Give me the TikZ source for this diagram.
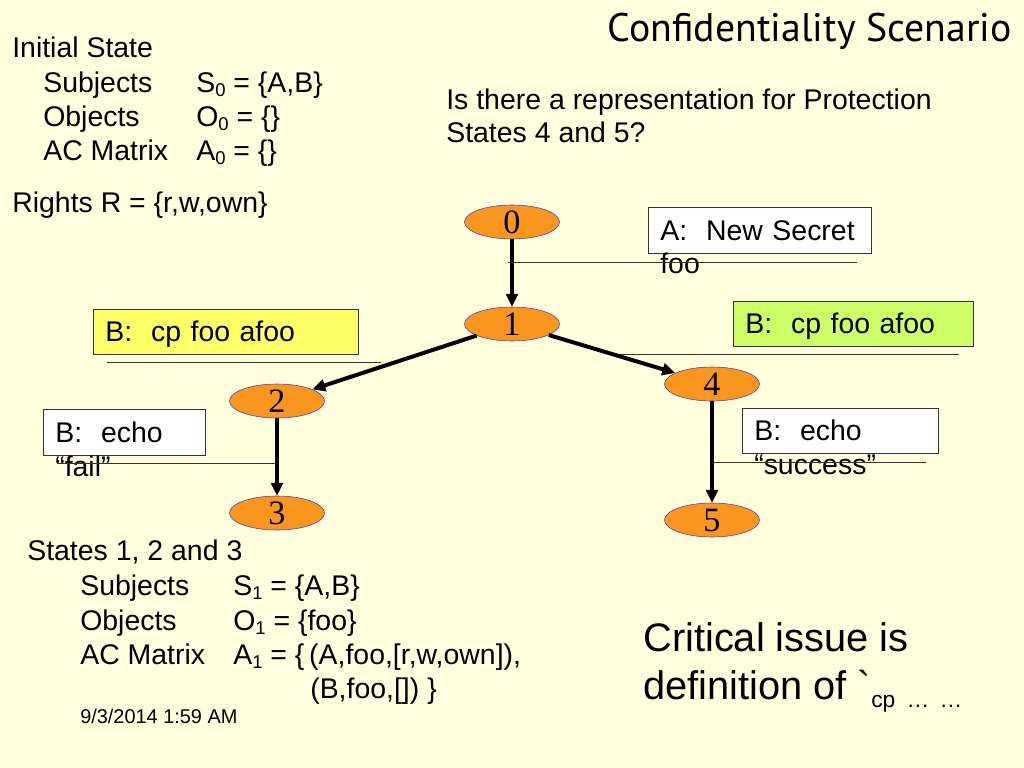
\documentclass[tikz,border=0pt]{standalone}
\usepackage{fontspec}
\setmainfont{Liberation Sans}
\newfontfamily\titlefont{PT Sans}
\newfontfamily\numfont{Liberation Serif}
\usetikzlibrary{shapes.geometric,arrows.meta}
\definecolor{slidebg}{RGB}{255,255,222}
\definecolor{stateorange}{RGB}{250,150,30}
\definecolor{stateedge}{RGB}{90,60,180}
\definecolor{boxyellow}{RGB}{255,255,102}
\definecolor{boxgreen}{RGB}{204,255,102}
\newlength\px
\setlength\px{0.703125pt}
\newcommand{\bodysize}{\fontsize{20}{24}\selectfont}
\newcommand{\sub}[1]{\raisebox{-4\px}{\fontsize{13}{13}\selectfont#1}}
\begin{document}
\begin{tikzpicture}[x=1\px,y=-1\px,
  state/.style={ellipse,draw=stateedge,thin,fill=stateorange,minimum width=95\px,minimum height=34\px,inner sep=0pt,font=\numfont\fontsize{24}{24}\selectfont},
  move/.style={line width=2.8pt,-{Triangle[length=9.1pt,width=8.4pt]}},
  txt/.style={anchor=base west,inner sep=0pt,font=\bodysize},
  cmdbox/.style={draw=black!80,anchor=north west,inner xsep=12\px,inner ysep=0pt,font=\bodysize,align=left,text height=14.3pt,text depth=0pt},
  lead/.style={line width=0.7pt,black!80}]
\fill[slidebg] (0,0) rectangle (1024,768);
\useasboundingbox (0,0) rectangle (1024,768);

\node[anchor=base east,inner sep=0pt,font=\titlefont\fontsize{28}{32}\selectfont] (title) at (1012,42) {Confidentiality Scenario};
\node[txt] (question) at (446,110) {Is there a representation for Protection};
\node[txt] (question2) at (446,143) {States 4 and 5?};

% initial state
\node[txt] (init) at (12,58) {Initial State};
\foreach \y/\name/\set in {93/Subjects/{S\sub{0} = \{A,B\}},127/Objects/{O\sub{0} = \{\}},161/AC Matrix/{A\sub{0} = \{\}}}{
    \node[txt] at (43,\y) {\name};
    \node[txt] at (196,\y) {\set};
}
\node[txt] (rights) at (12,213) {Rights R = \{r,w,own\}};

% states
\node[state] (s0) at (512,222) {0};
\node[state] (s1) at (512,324) {1};
\node[state] (s2) at (277,401) {2};
\node[state] (s3) at (277,513) {3};
\node[state] (s4) at (712,384) {4};
\node[state] (s5) at (712,520) {5};
\draw[move] (s0) -- (s1);
\draw[move] (s1) -- (s2);
\draw[move] (s1) -- (s4);
\draw[move] (s2) -- (s3);
\draw[move] (s4) -- (s5);

% commands
\node[cmdbox,fill=white,text width=199\px,minimum height=46\px] (newsecret) at (648,207) {A:\ \ New Secret};
\node[txt] (newsecret2) at (660,274) {foo};
\node[cmdbox,fill=boxyellow,text width=241\px,minimum height=45\px] (cpleft) at (93,309) {B:\ \ cp foo afoo};
\node[cmdbox,fill=boxgreen,text width=216\px,minimum height=45\px] (cpright) at (733,301) {B:\ \ cp foo afoo};
\node[cmdbox,fill=white,text width=138\px,minimum height=46\px] (fail) at (43,409) {B:\ \ echo};
\node[txt] (fail2) at (55,476) {“fail”};
\node[cmdbox,fill=white,text width=172\px,minimum height=45\px] (success) at (742,408) {B:\ \ echo};
\node[txt] (success2) at (754,474) {“success”};

\coordinate (l0a) at (508,262); \coordinate (l0b) at (857,262);
\coordinate (l1a) at (107,362); \coordinate (l1b) at (381,362);
\coordinate (l2a) at (620,354); \coordinate (l2b) at (959,354);
\coordinate (l3a) at (57,463);  \coordinate (l3b) at (275,463);
\coordinate (l4a) at (713,462); \coordinate (l4b) at (926,462);
\foreach \i in {0,...,4}
    \draw[lead] (l\i a) -- (l\i b);

% states 1, 2 and 3
\node[txt] (later) at (27,560) {States 1, 2 and 3};
\foreach \y/\name/\set in {595/Subjects/{S\sub{1} = \{A,B\}},630/Objects/{O\sub{1} = \{foo\}},664/AC Matrix/{A\sub{1} = \{\,(A,foo,[r,w,own]),}}{
    \node[txt] at (80,\y) {\name};
    \node[txt] at (233,\y) {\set};
}
\node[txt] (matrix2) at (310,698) {(B,foo,[]) \}};
\node[txt,font=\fontsize{14}{16}\selectfont] (date) at (80,723) {9/3/2014 1:59 AM};

\node[txt,font=\fontsize{28}{32}\selectfont] (issue) at (643,651) {Critical issue is};
\node[txt,font=\fontsize{28}{32}\selectfont] (issue2) at (643,699) {definition of \textasciigrave\lower8\px\hbox{\fontsize{16}{18}\selectfont cp\hspace{5\px} …\hspace{4\px} …}};
\end{tikzpicture}
\end{document}
